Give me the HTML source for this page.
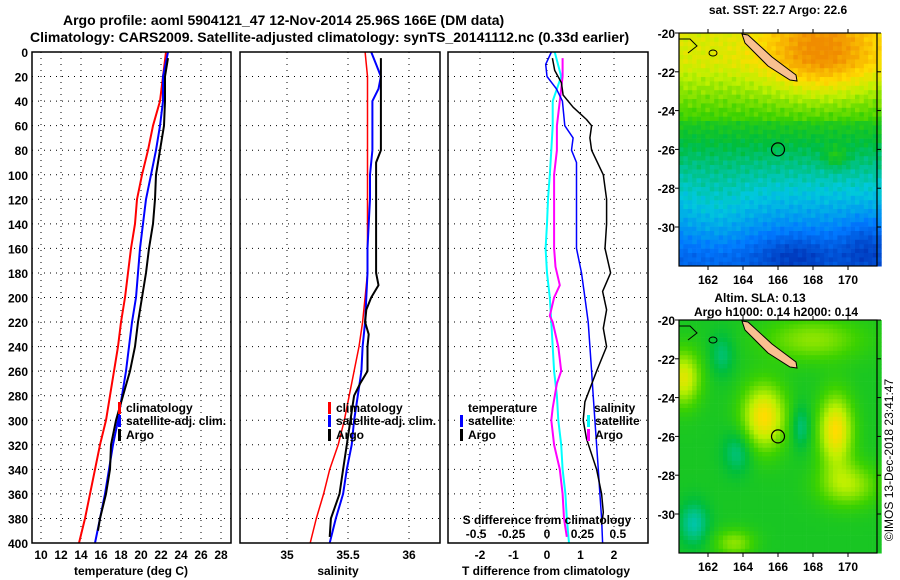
<!DOCTYPE html>
<html><head><meta charset="utf-8"><style>
body{margin:0;background:#fff;}
svg{display:block;font-family:"Liberation Sans",sans-serif;font-weight:bold;}
</style></head><body>
<svg id="c" width="900" height="580" viewBox="0 0 900 580" xmlns="http://www.w3.org/2000/svg">
<text x="63" y="25" font-size="14">Argo profile: aoml 5904121_47 12-Nov-2014 25.96S 166E (DM data)</text>
<text x="30" y="42" font-size="14">Climatology: CARS2009. Satellite-adjusted climatology: synTS_20141112.nc (0.33d earlier)</text>
<g id="g1"></g>
<g id="g2"></g>
<g id="g3"></g>
<g id="m1"></g>
<g id="m2"></g>
<text x="778" y="14" font-size="12" text-anchor="middle">sat. SST: 22.7 Argo: 22.6</text>
<text x="760" y="302" font-size="12" text-anchor="middle">Altim. SLA: 0.13</text>
<text x="776" y="316" font-size="12" text-anchor="middle">Argo h1000: 0.14 h2000: 0.14</text>
<text transform="translate(893,460) rotate(-90)" font-size="12" font-weight="normal" text-anchor="middle">©IMOS 13-Dec-2018 23:41:47</text>
</svg>
<script>
// ---- data ----
const depthTicks=[0,20,40,60,80,100,120,140,160,180,200,220,240,260,280,300,320,340,360,380,400];
const tTicks=[10,12,14,16,18,20,22,24,26,28];
const sTicks=[35,35.5,36];
const tdTicks=[-2,-1,0,1,2];
const sdTicks=[-0.5,-0.25,0,0.25,0.5];
const sdTickLabels=["-0.5","-0.25","0","0.25","0.5"];
const latTicks=[-20,-22,-24,-26,-28,-30];
const lonTicks=[162,164,166,168,170];

const climDepth=[0,20,40,60,80,100,120,140,160,180,200,220,240,260,280,300,320,340,360,380,400];
const tempClim=[22.5,22.2,21.9,21.2,20.7,20.1,19.6,19.4,19.0,18.7,18.4,18.0,17.7,17.3,16.9,16.5,15.9,15.4,14.9,14.4,13.8];
const tempSat=[22.7,22.2,22.2,21.9,21.5,21.0,20.5,20.2,19.9,19.7,19.5,19.1,18.8,18.5,18.1,17.7,17.2,16.8,16.4,15.9,15.4];
const argoDepth=[5,20,40,60,80,100,120,140,160,180,200,220,240,260,280,300,320,340,360,380,390];
const tempArgo=[22.7,22.4,22.4,22.3,21.9,21.5,21.4,21.2,20.8,20.5,20.1,19.7,19.4,18.9,18.2,17.5,17.0,16.9,16.5,15.9,15.7];

const salClim=[35.64,35.66,35.66,35.66,35.66,35.66,35.66,35.66,35.66,35.66,35.64,35.62,35.59,35.55,35.51,35.47,35.42,35.35,35.30,35.24,35.19];
const salSatDepth=[0,10,20,30,40,60,80,100,120,140,160,180,200,220,240,260,280,300,320,340,360,380,400];
const salSat=[35.69,35.73,35.77,35.75,35.70,35.70,35.70,35.68,35.68,35.67,35.66,35.66,35.65,35.64,35.62,35.61,35.58,35.55,35.53,35.49,35.46,35.40,35.35];
const salArgoDepth=[5,20,40,60,80,90,100,120,140,160,180,190,200,210,220,230,240,260,270,280,300,320,340,360,380,395];
const salArgo=[35.77,35.77,35.77,35.77,35.77,35.73,35.73,35.73,35.73,35.73,35.73,35.75,35.69,35.65,35.64,35.67,35.66,35.66,35.60,35.55,35.52,35.49,35.46,35.43,35.36,35.35];

const tdSatDepth=[0,10,20,30,40,60,70,80,90,100,120,140,160,180,200,220,240,260,280,300,320,340,360,380,400];
const tdSat=[0.13,-0.04,0,0.28,0.46,0.53,0.78,0.73,0.88,0.88,0.88,0.88,0.88,1.03,1.13,1.23,1.28,1.33,1.38,1.43,1.48,1.53,1.58,1.63,1.66];
const tdArgoDepth=[5,15,25,35,45,55,60,70,80,100,120,140,160,180,195,210,225,240,260,285,300,315,340,360,375,385];
const tdArgo=[0.16,0.23,0.43,0.48,0.78,1.18,1.33,1.28,1.33,1.68,1.78,1.78,1.73,1.90,1.66,1.78,1.68,1.78,1.48,1.13,1.08,1.18,1.48,1.63,1.68,1.63];
const sdSat=[0.054,0.10,0.04,0.04,0.03,0.02,0.007,0,-0.01,0,0.02,0.03,0.04,0.05,0.07,0.08,0.10,0.11,0.13,0.14,0.155];
const sdArgoDepth=[5,20,40,60,80,100,120,140,160,175,190,200,215,220,240,260,270,290,300,320,340,360,380,395];
const sdArgo=[0.11,0.11,0.09,0.07,0.07,0.05,0.05,0.05,0.05,0.06,0.09,0.05,0.02,0.04,0.08,0.10,0.07,0.04,0.03,0.05,0.09,0.11,0.12,0.14];

// ---- helpers ----
const NS="http://www.w3.org/2000/svg";
function mk(parent,tag,attrs,text){const e=document.createElementNS(NS,tag);for(const k in attrs)e.setAttribute(k,attrs[k]);if(text!==undefined)e.textContent=text;parent.appendChild(e);return e;}
const Y0=52,Y1=543;
const yD=d=>Y0+(Y1-Y0)*d/400;
const xT=t=>41+10*(t-10);
const xS=s=>287+122*(s-35);
const xTD=t=>547+33.5*t;
const xSD=s=>547+141.7*s;

function frame(g,x0,x1,name){
  const r=mk(g,'rect',{x:x0,y:Y0,width:x1-x0,height:Y1-Y0,fill:'none',stroke:'#000','stroke-width':1.5});
  
  
}
function hgrid(g,x0,x1){
  depthTicks.forEach(d=>{
    const l=mk(g,'line',{x1:x0,x2:x1,y1:yD(d),y2:yD(d),stroke:'#000','stroke-width':1,'stroke-dasharray':'1,5'});
    
    
  });
}
function vgrid(g,xs,fx){
  xs.forEach(v=>{
    const l=mk(g,'line',{x1:fx(v),x2:fx(v),y1:Y0,y2:Y1,stroke:'#000','stroke-width':1,'stroke-dasharray':'1,5'});
    
    
  });
}
function line(g,xs,ds,fx,color,w,name){
  const p=xs.map((v,i)=>fx(v).toFixed(1)+','+yD(ds[i]).toFixed(1)).join(' ');
  const e=mk(g,'polyline',{points:p,fill:'none',stroke:color,'stroke-width':w,'stroke-linejoin':'round'});
  
  
}
function txt(g,x,y,s,anchor,name,size){
  const e=mk(g,'text',{x:x,y:y,'font-size':size||12,'text-anchor':anchor||'start'},s);
  
  
  return e;
}
function legend(g,x,y,color,label,name){
  const r=mk(g,'rect',{x:x-1,y:y-10,width:3,height:12,fill:color});
  
  
  if(label)txt(g,x+7,y,label,'start',name);
}

// ---- panel 1 ----
const g1=document.getElementById('g1');
hgrid(g1,32,231);vgrid(g1,tTicks,xT);
line(g1,tempClim,climDepth,xT,'#f00',2,'temp-climatology-line');
line(g1,tempSat,climDepth,xT,'#00f',2,'temp-satellite-line');
line(g1,tempArgo,argoDepth,xT,'#000',2,'temp-argo-line');
frame(g1,32,231,'temperature-plot-frame');
depthTicks.forEach(d=>txt(g1,28,yD(d)+5,String(d),'end','depth-tick-label'));
tTicks.forEach(t=>txt(g1,xT(t),559,String(t),'middle','temp-tick-label'));
txt(g1,131,575,'temperature (deg C)','middle','temp-axis-title');
legend(g1,119,412,'#f00','climatology','legend-climatology');
legend(g1,119,425,'#00f','satellite-adj. clim.','legend-satellite-adj');
legend(g1,119,439,'#000','Argo','legend-argo');

// ---- panel 2 ----
const g2=document.getElementById('g2');
hgrid(g2,240,440);vgrid(g2,sTicks,xS);
line(g2,salClim,climDepth,xS,'#f00',1.5,'sal-climatology-line');
line(g2,salSat,salSatDepth,xS,'#00f',2,'sal-satellite-line');
line(g2,salArgo,salArgoDepth,xS,'#000',2,'sal-argo-line');
frame(g2,240,440,'salinity-plot-frame');
sTicks.forEach(s=>txt(g2,xS(s),559,String(s),'middle','sal-tick-label'));
txt(g2,338,575,'salinity','middle','sal-axis-title');
legend(g2,329,412,'#f00','climatology','legend-climatology-s');
legend(g2,329,425,'#00f','satellite-adj. clim.','legend-satellite-adj-s');
legend(g2,329,439,'#000','Argo','legend-argo-s');

// ---- panel 3 ----
const g3=document.getElementById('g3');
hgrid(g3,448,648);vgrid(g3,tdTicks,xTD);
line(g3,sdSat,climDepth,xSD,'#0ff',2,'sdiff-satellite-line');
line(g3,sdArgo,sdArgoDepth,xSD,'#f0f',2,'sdiff-argo-line');
line(g3,tdSat,tdSatDepth,xTD,'#00f',1.5,'tdiff-satellite-line');
line(g3,tdArgo,tdArgoDepth,xTD,'#000',1.5,'tdiff-argo-line');
frame(g3,448,648,'difference-plot-frame');
tdTicks.forEach(t=>txt(g3,xTD(t),559,String(t),'middle','tdiff-tick-label'));
sdTicks.forEach((s,i)=>txt(g3,xSD(s),538,sdTickLabels[i],'middle','sdiff-tick-label'));
txt(g3,547,524,'S difference from climatology','middle','sdiff-axis-title');
txt(g3,546,575,'T difference from climatology','middle','tdiff-axis-title');
txt(g3,468,412,'temperature','start','legend-temperature-header');
legend(g3,461,425,'#00f','satellite','legend-t-satellite');
legend(g3,461,439,'#000','Argo','legend-t-argo');
txt(g3,594,412,'salinity','start','legend-salinity-header');
legend(g3,588,425,'#0ff','satellite','legend-s-satellite');
legend(g3,588,439,'#f0f','Argo','legend-s-argo');

// ---- maps ----
function jet(v){ // v 0..1
  const stops=[[0,[0,40,170]],[0.2,[0,120,255]],[0.35,[0,200,220]],[0.5,[0,190,60]],[0.62,[60,210,0]],[0.75,[190,240,0]],[0.85,[255,220,0]],[1,[240,140,0]]];
  v=Math.max(0,Math.min(1,v));
  for(let i=1;i<stops.length;i++){if(v<=stops[i][0]){const a=stops[i-1],b=stops[i];const f=(v-a[0])/(b[0]-a[0]);return 'rgb('+a[1].map((c,k)=>Math.round(c+(b[1][k]-c)*f)).join(',')+')';}}
  return 'rgb(240,140,0)';
}
function gauss(lon,lat,cx,cy,sx,sy){return Math.exp(-((lon-cx)**2/(2*sx*sx)+(lat-cy)**2/(2*sy*sy)));}
function sstField(lon,lat){
  let v=0.15+0.6*Math.max(0,Math.min(1,(lat+31.5)/10));
  if(lat>-24.5)v+=0.04;
  v+=0.22*gauss(lon,lat,168.5,-20.8,2.2,1.6)+0.1*gauss(lon,lat,169.3,-26.4,0.5,0.4);
  v-=0.1*gauss(lon,lat,167,-31.5,1.5,0.8)+0.1*gauss(lon,lat,171,-31,1,1);
  v+=0.05*gauss(lon,lat,162.5,-29.5,1.5,1.5);
  return v+0.03*Math.sin(lon*7.3+lat*5.1)*Math.cos(lon*3.7-lat*9.2);
}
function slaField(lon,lat){
  let v=0.55;
  v+=0.3*gauss(lon,lat,165.2,-25,0.9,1.2)+0.3*gauss(lon,lat,169.3,-25.7,0.7,1.3)+0.25*gauss(lon,lat,160.6,-23,0.7,1);
  v+=0.18*gauss(lon,lat,170,-28.5,1.2,0.8)+0.15*gauss(lon,lat,168,-21,2,0.8)+0.15*gauss(lon,lat,163.5,-31.5,0.8,0.5);
  v-=0.15*gauss(lon,lat,161.2,-30.5,0.6,0.8)+0.12*gauss(lon,lat,163.7,-26.8,0.6,0.8)+0.12*gauss(lon,lat,167.3,-25.5,0.4,0.8)+0.1*gauss(lon,lat,162.8,-21.8,0.5,0.8);
  return v;
}
const MX0=679,MX1=877,MH=233;
const lonX=lon=>708+17.5*(lon-162);
function drawMap(id,top,field,name){
  const g=document.getElementById(id);
  const latY=lat=>top+19.4*(-20-lat);
  const cell=4.4;
  for(let x=MX0;x<MX1;x+=cell){for(let y=top;y<top+MH;y+=cell){
    const lon=162+(x+cell/2-708)/17.5, lat=-20-(y+cell/2-top)/19.4;
    mk(g,'rect',{x:x.toFixed(1),y:y.toFixed(1),width:cell+0.3,height:cell+0.3,fill:jet(field(lon,lat))});
  }}
  const isl=mk(g,'polygon',{points:[[742,1],[748,2],[772,24],[796,42],[797,48],[790,47],[768,33],[745,10]].map(p=>p[0]+','+(p[1]+top)).join(' '),fill:'#f9c090',stroke:'#000','stroke-width':1});
  
  
  mk(g,'path',{d:`M679 ${top+6} L690 ${top+6} L697 ${top+13} L688 ${top+20} M709 ${top+20} a4 3 0 1 0 8 0 a4 3 0 1 0 -8 0`,fill:'none',stroke:'#000','stroke-width':1});
  const c=mk(g,'circle',{cx:lonX(166),cy:latY(-26),r:6.5,fill:'none',stroke:'#000','stroke-width':1.2});
  
  
  const f=mk(g,'rect',{x:MX0,y:top,width:MX1-MX0,height:MH,fill:'none',stroke:'#000','stroke-width':1.2});
  
  
  latTicks.forEach(l=>{mk(g,'line',{x1:MX0-4,x2:MX0,y1:latY(l),y2:latY(l),stroke:'#000'});mk(g,'line',{x1:MX1,x2:MX1+4,y1:latY(l),y2:latY(l),stroke:'#000'});txt(g,675,latY(l)+5,String(l),'end','lat-tick-label');});
  lonTicks.forEach(l=>{mk(g,'line',{x1:lonX(l),x2:lonX(l),y1:top+MH,y2:top+MH+4,stroke:'#000'});mk(g,'line',{x1:lonX(l),x2:lonX(l),y1:top-4,y2:top,stroke:'#000'});txt(g,lonX(l),top+MH+18,String(l),'middle','lon-tick-label');});
}
drawMap('m1',33,sstField,'sst-map');
drawMap('m2',320,slaField,'sla-map');
</script>
</body></html>
